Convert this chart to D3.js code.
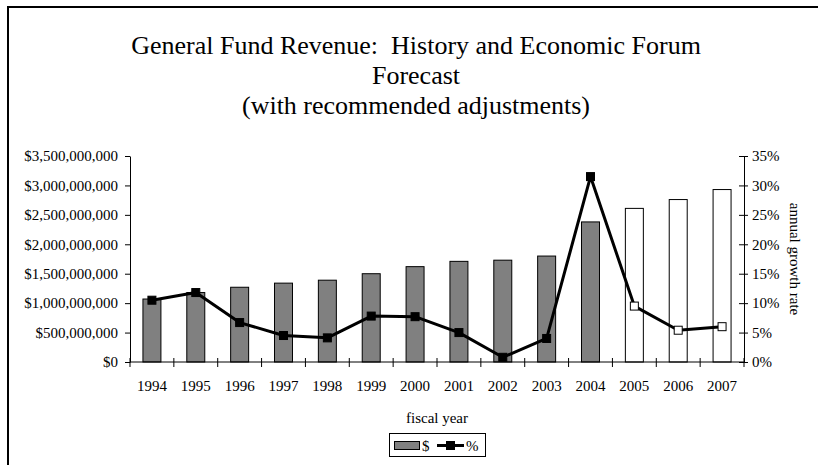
<!DOCTYPE html>
<html>
<head>
<meta charset="utf-8">
<script src="https://cdn.jsdelivr.net/npm/d3@7"></script>
<style>
  html, body { margin: 0; padding: 0; background: #fff; }
  svg { display: block; }
  text { font-family: "Liberation Serif", "Times New Roman", serif; fill: #000; }
</style>
</head>
<body>
<svg id="chart" width="818" height="465"></svg>
<script>
const years = ["1994","1995","1996","1997","1998","1999","2000","2001","2002","2003","2004","2005","2006","2007"];
const revenue = [1.07e9,1.18e9,1.27e9,1.34e9,1.39e9,1.50e9,1.62e9,1.71e9,1.73e9,1.80e9,2.38e9,2.61e9,2.76e9,2.93e9];
const growth = [10.5,11.8,6.7,4.5,4.1,7.8,7.7,5.0,0.8,4.0,31.5,9.5,5.4,6.0];
const forecast = [false,false,false,false,false,false,false,false,false,false,false,true,true,true];
const leftTicks = [0,5e8,1e9,1.5e9,2e9,2.5e9,3e9,3.5e9];
const rightTicks = [0,5,10,15,20,25,30,35];
const titleLines = ["General Fund Revenue:  History and Economic Forum","Forecast","(with recommended adjustments)"];

const svg = d3.select("#chart");
const L = 130, R = 744, T = 156, B = 362;

// outer frame (top and left edges visible; rest runs off the page)
svg.append("line").attr("x1", 8).attr("x2", 818).attr("y1", 7).attr("y2", 7).attr("stroke","#000").attr("stroke-width",2);
svg.append("line").attr("x1", 8).attr("x2", 8).attr("y1", 6).attr("y2", 465).attr("stroke","#000").attr("stroke-width",2);

// title
svg.selectAll("text.title").data(titleLines).enter().append("text")
  .attr("class","title")
  .attr("x", 416).attr("y", (d,i) => 54 + i*30)
  .attr("text-anchor","middle").style("font-size","26px").style("white-space","pre")
  .attr("xml:space","preserve").text(d => d);

const xb = d3.scaleBand().domain(years).range([L, R]).padding(0);
const yL = d3.scaleLinear().domain([0, 3.5e9]).range([B, T]);
const yR = d3.scaleLinear().domain([0, 35]).range([B, T]);
const bw = xb.bandwidth() * 0.41;
const cx = d => xb(d) + xb.bandwidth()/2;

// bars
svg.append("g").selectAll("rect").data(years).enter().append("rect")
  .attr("x", (d) => cx(d) - bw/2)
  .attr("y", (d,i) => yL(revenue[i]))
  .attr("width", bw)
  .attr("height", (d,i) => B - yL(revenue[i]))
  .attr("fill", (d,i) => forecast[i] ? "#fff" : "#808080")
  .attr("stroke", "#000").attr("stroke-width", 1);

// left axis
const fmt = v => "$" + d3.format(",")(v);
const gl = svg.append("g").attr("transform", `translate(${L},0)`)
  .call(d3.axisLeft(yL).tickValues(leftTicks).tickFormat(fmt).tickSizeOuter(0).tickSizeInner(5).tickPadding(7));
gl.selectAll("text").style("font-size","15px").style("font-family","Liberation Serif, serif");

// right axis
const gr = svg.append("g").attr("transform", `translate(${R},0)`)
  .call(d3.axisRight(yR).tickValues(rightTicks).tickFormat(d => d + "%").tickSizeOuter(0).tickSizeInner(4).tickPadding(4));
gr.selectAll(".tick line").attr("x1", -5);
gr.selectAll("text").style("font-size","15px").style("font-family","Liberation Serif, serif");

// x axis
svg.append("line").attr("x1", L).attr("x2", R).attr("y1", B).attr("y2", B).attr("stroke","#000");
const bounds = years.map(d => xb(d)).concat([R]);
svg.append("g").selectAll("line").data(bounds).enter().append("line")
  .attr("x1", d => d).attr("x2", d => d).attr("y1", B - 4).attr("y2", B + 5)
  .attr("stroke","#000");
svg.append("g").selectAll("text").data(years).enter().append("text")
  .attr("x", d => cx(d)).attr("y", 391).attr("text-anchor","middle")
  .style("font-size","15px").text(d => d);

[gl, gr].forEach(g => { g.select(".domain").attr("stroke","#000"); g.selectAll(".tick line").attr("stroke","#000"); });

// axis titles
svg.append("text").attr("x", (L+R)/2).attr("y", 423).attr("text-anchor","middle")
  .style("font-size","15px").text("fiscal year");
svg.append("text").attr("transform", `translate(790,${(T+B)/2}) rotate(90)`)
  .attr("text-anchor","middle").style("font-size","15px").text("annual growth rate");

// line
const line = d3.line().x((d,i) => cx(years[i])).y(d => yR(d));
svg.append("path").datum(growth).attr("d", line)
  .attr("fill","none").attr("stroke","#000").attr("stroke-width",3).attr("stroke-linejoin","round");
const ms = 8;
svg.append("g").selectAll("rect").data(growth).enter().append("rect")
  .attr("x", (d,i) => cx(years[i]) - ms/2).attr("y", d => yR(d) - ms/2)
  .attr("width", ms).attr("height", ms)
  .attr("fill", (d,i) => forecast[i] ? "#fff" : "#000")
  .attr("stroke","#000").attr("stroke-width",1);

// legend
const lg = svg.append("g");
lg.append("rect").attr("x", 389.5).attr("y", 433.5).attr("width", 96).attr("height", 23)
  .attr("fill","#fff").attr("stroke","#000").attr("stroke-width",1);
lg.append("rect").attr("x", 394.5).attr("y", 441.5).attr("width", 25).attr("height", 8)
  .attr("fill","#808080").attr("stroke","#000").attr("stroke-width",1);
lg.append("text").attr("x", 422).attr("y", 451).style("font-size","15px").text("$");
lg.append("line").attr("x1", 437).attr("x2", 464).attr("y1", 445.5).attr("y2", 445.5)
  .attr("stroke","#000").attr("stroke-width",3);
lg.append("rect").attr("x", 446.5).attr("y", 441.5).attr("width", 8).attr("height", 8)
  .attr("fill","#000").attr("stroke","#000");
lg.append("text").attr("x", 466).attr("y", 451).style("font-size","15px").text("%");
</script>
</body>
</html>
